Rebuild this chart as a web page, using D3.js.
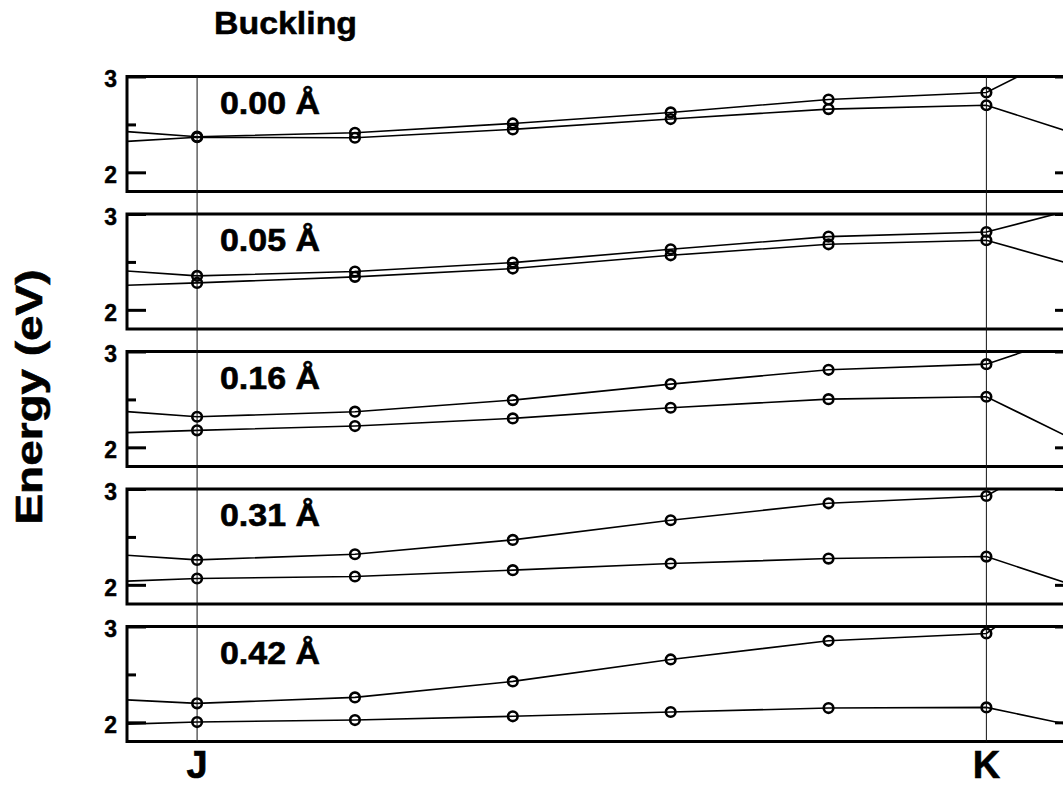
<!DOCTYPE html>
<html>
<head>
<meta charset="utf-8">
<script src="https://cdn.jsdelivr.net/npm/d3@7"></script>
<style>
  body { margin: 0; background: #fff; }
  text { font-family: "Liberation Sans", Arial, sans-serif; font-weight: bold; }
</style>
</head>
<body>
<div id="chart"></div>
<script>
// k-path steps: -1 and 6 are the neighbours just outside the frame
const kSteps = [-1, 0, 1, 2, 3, 4, 5, 6]
const kLabels = [{ k: 0, name: "J" }, { k: 5, name: "K" }]
const buckling = ["0.00 Å", "0.05 Å", "0.16 Å", "0.31 Å", "0.42 Å"]
const yTicks = [2, 3]
const yMinorTicks = [2.5]

// upper band, one row per buckling
const upperBand = [
    [2.49, 2.372, 2.413, 2.510, 2.625, 2.760, 2.833, 3.66],
    [2.47, 2.354, 2.400, 2.493, 2.632, 2.764, 2.812, 3.24],
    [2.44, 2.319, 2.372, 2.493, 2.660, 2.809, 2.868, 3.42],
    [2.37, 2.260, 2.319, 2.469, 2.674, 2.851, 2.927, 3.85],
    [2.28, 2.198, 2.260, 2.427, 2.656, 2.851, 2.927, 4.10]
]
// lower band
const lowerBand = [
    [2.27, 2.366, 2.361, 2.448, 2.556, 2.660, 2.700, 2.17],
    [2.225, 2.281, 2.344, 2.431, 2.569, 2.684, 2.726, 2.26],
    [2.125, 2.177, 2.222, 2.302, 2.413, 2.503, 2.528, 1.72],
    [2.005, 2.066, 2.087, 2.153, 2.222, 2.274, 2.295, 1.75],
    [1.953, 2.003, 2.024, 2.063, 2.108, 2.149, 2.156, 1.81]
]

function drawBands(container, width, height) {
    d3.select(container).selectAll("*").remove()

    const svg = d3.select(container)
        .append("svg")
        .attr("width", width)
        .attr("height", height)

    const panelTop = 76.5
    const panelStep = 137.5
    const panelH = 115
    const left = 127, right = 1074

    const x = d3.scaleLinear().domain([-0.444, 5.555]).range([left, right])

    svg.append("text")
        .attr("x", 214)
        .attr("y", 34)
        .style("font-size", "32px")
        .attr("stroke", "#000").attr("stroke-width", 0.5)
        .attr("textLength", 143)
        .attr("lengthAdjust", "spacingAndGlyphs")
        .text("Buckling")

    svg.append("text")
        .attr("transform", "translate(42 397) rotate(-90)")
        .attr("text-anchor", "middle")
        .style("font-size", "37px")
        .attr("stroke", "#000").attr("stroke-width", 0.6)
        .attr("textLength", 255)
        .attr("lengthAdjust", "spacingAndGlyphs")
        .text("Energy (eV)")

    const line = d3.line().x(d => x(d.k)).y(d => d.y)

    buckling.forEach((label, i) => {
        const top = panelTop + i * panelStep
        const y = d3.scaleLinear().domain([1.8, 3.0]).range([top + panelH, top])
        const g = svg.append("g")

        const clipId = "clip" + i
        svg.append("clipPath").attr("id", clipId)
            .append("rect")
            .attr("x", left).attr("y", top)
            .attr("width", right - left).attr("height", panelH)

        const yLeft = g.append("g").attr("transform", "translate(" + left + " 0)")
        yLeft.call(d3.axisLeft(y).tickValues(yTicks).tickFormat(d3.format("d")).tickSize(-19).tickPadding(10))
        yLeft.append("g").call(d3.axisLeft(y).tickValues(yMinorTicks).tickFormat("").tickSize(-9))
        const yRight = g.append("g").attr("transform", "translate(" + right + " 0)")
        yRight.call(d3.axisRight(y).tickValues(yTicks).tickFormat("").tickSize(-19))
        yRight.append("g").call(d3.axisRight(y).tickValues(yMinorTicks).tickFormat("").tickSize(-9))
        g.selectAll(".domain").remove()
        g.selectAll(".tick line").attr("stroke", "#000").attr("stroke-width", 3)
        g.selectAll(".tick text")
            .style("font-size", "23px")
            .style("font-family", "'Liberation Sans', Arial, sans-serif")
            .style("font-weight", "bold")
            .attr("fill", "#000")
            .attr("stroke", "#000").attr("stroke-width", 0.4)
            .attr("dy", "0.45em")

        const plot = g.append("g").attr("clip-path", "url(#" + clipId + ")")
        ;[upperBand[i], lowerBand[i]].forEach(band => {
            const pts = kSteps.map((k, j) => ({ k: k, y: y(band[j]) }))
            plot.append("path")
                .datum(pts)
                .attr("d", line)
                .attr("fill", "none")
                .attr("stroke", "#000")
                .attr("stroke-width", 1.6)
            plot.selectAll(null)
                .data(pts)
                .enter()
                .append("circle")
                .attr("cx", d => x(d.k))
                .attr("cy", d => d.y)
                .attr("r", 4.8)
                .attr("fill", "none")
                .attr("stroke", "#000")
                .attr("stroke-width", 2.6)
        })

        g.append("rect")
            .attr("x", left).attr("y", top)
            .attr("width", right - left).attr("height", panelH)
            .attr("fill", "none")
            .attr("stroke", "#000")
            .attr("stroke-width", 3)

        g.append("text")
            .attr("x", 220)
            .attr("y", top + 37)
            .style("font-size", "31px")
            .attr("stroke", "#000").attr("stroke-width", 0.6)
            .attr("textLength", 100)
            .attr("lengthAdjust", "spacingAndGlyphs")
            .text(label)
    })

    const yTop = panelTop
    const yBottom = panelTop + (buckling.length - 1) * panelStep + panelH

    svg.selectAll(".kline")
        .data(kLabels)
        .enter()
        .append("line")
        .attr("x1", d => x(d.k)).attr("x2", d => x(d.k))
        .attr("y1", yTop).attr("y2", yBottom)
        .attr("stroke", "#111")
        .attr("stroke-width", 1)

    svg.selectAll(".klabel")
        .data(kLabels)
        .enter()
        .append("text")
        .attr("x", d => x(d.k))
        .attr("y", 778)
        .attr("text-anchor", "middle")
        .style("font-size", "38px")
        .attr("stroke", "#000").attr("stroke-width", 0.6)
        .text(d => d.name)

    return svg.node()
}

drawBands("#chart", 1063, 787)
</script>
</body>
</html>
